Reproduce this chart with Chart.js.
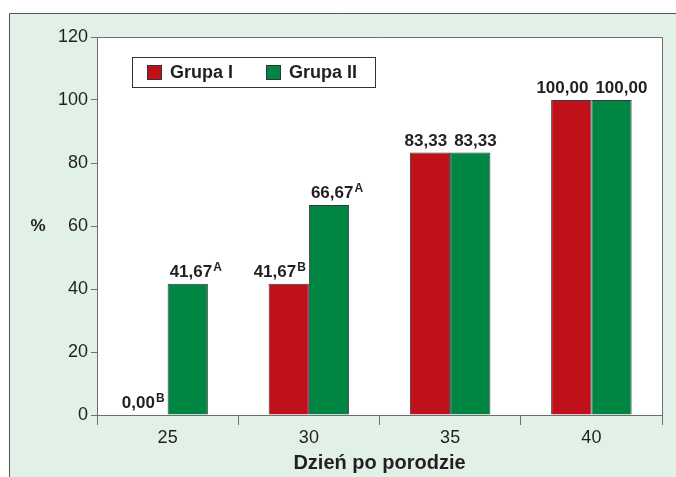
<!DOCTYPE html>
<html><head><meta charset="utf-8">
<script src="https://cdn.jsdelivr.net/npm/chart.js@4/dist/chart.umd.min.js"></script>
<style>html,body{margin:0;padding:0;background:#fff}canvas{display:block}</style>
</head><body>
<canvas id="c" width="676" height="477"></canvas>
<script>
const categories = ['25', '30', '35', '40'];
const seriesNames = ['Grupa I', 'Grupa II'];
const grupaI = [0.00, 41.67, 83.33, 100.00];
const grupaII = [41.67, 66.67, 83.33, 100.00];
const supI = ['B', 'B', '', ''];
const supII = ['A', 'A', '', ''];
const yTicks = [0, 20, 40, 60, 80, 100, 120];
const xTitle = 'Dzień po porodzie';
const yTitle = '%';

const RED = '#c0111b', GREEN = '#008542', TXT = '#231f20', AX = '#6d6e70';
const FONT = '"Liberation Sans", Arial, sans-serif';

const fmt = v => v.toFixed(2).replace('.', ',');

const decor = {
  id: 'decor',
  beforeDraw(chart) {
    const ctx = chart.ctx, a = chart.chartArea;
    ctx.save();
    ctx.fillStyle = '#fff'; ctx.fillRect(0, 0, 676, 477);
    ctx.fillStyle = '#e1f1e7'; ctx.fillRect(9, 13, 667, 464);
    ctx.strokeStyle = '#555'; ctx.lineWidth = 1;
    ctx.beginPath(); ctx.moveTo(9.5, 477); ctx.lineTo(9.5, 13.5); ctx.lineTo(676, 13.5); ctx.stroke();
    ctx.fillStyle = '#fff'; ctx.fillRect(a.left, a.top, a.right - a.left, a.bottom - a.top);
    ctx.restore();
  },
  afterDraw(chart) {
    const ctx = chart.ctx, a = chart.chartArea;
    ctx.save();
    ctx.strokeStyle = AX; ctx.lineWidth = 1;
    ctx.beginPath();
    ctx.moveTo(a.left, Math.round(a.top) + 0.5); ctx.lineTo(Math.round(a.right) + 0.5, Math.round(a.top) + 0.5);
    ctx.lineTo(Math.round(a.right) + 0.5, a.bottom); ctx.stroke();
    ctx.fillStyle = TXT; ctx.font = 'bold 17px ' + FONT;
    ctx.textAlign = 'center'; ctx.textBaseline = 'middle';
    ctx.fillText(yTitle, 38, chart.scales.y.getPixelForValue(60));
    const sups = [supI, supII];
    chart.data.datasets.forEach((ds, di) => {
      const meta = chart.getDatasetMeta(di);
      meta.data.forEach((bar, i) => {
        const main = fmt(ds.data[i]);
        const sup = sups[di][i];
        ctx.font = 'bold 17px ' + FONT;
        const wm = ctx.measureText(main).width;
        ctx.font = 'bold 12px ' + FONT;
        const ws = sup ? ctx.measureText(sup).width + 1 : 0;
        const w = wm + ws;
        const half = bar.width / 2;
        let x0;
        if (di === 0) x0 = bar.x + half - 3 - w;
        else x0 = bar.x - half + (sups[0][i] === '' && sup === '' ? 4 : 2);
        const yb = bar.y - 7;
        ctx.textAlign = 'left'; ctx.textBaseline = 'alphabetic';
        ctx.font = 'bold 17px ' + FONT; ctx.fillStyle = TXT;
        ctx.fillText(main, x0, yb);
        if (sup) { ctx.font = 'bold 12px ' + FONT; ctx.fillText(sup, x0 + wm + 1, yb - 6); }
      });
    });
    const lx = 132, ly = 57, lw = 243, lh = 30;
    ctx.fillStyle = '#fff'; ctx.fillRect(lx, ly, lw, lh);
    ctx.strokeStyle = '#333'; ctx.strokeRect(lx + 0.5, ly + 0.5, lw, lh);
    const items = [[147, 170], [266, 289]];
    chart.data.datasets.forEach((ds, di) => {
      const [sx, tx] = items[di];
      ctx.fillStyle = ds.backgroundColor; ctx.fillRect(sx, 65, 15, 15);
      ctx.strokeStyle = '#333'; ctx.strokeRect(sx + 0.5, 65.5, 14, 14);
      ctx.fillStyle = TXT; ctx.font = 'bold 18px ' + FONT;
      ctx.textAlign = 'left'; ctx.textBaseline = 'middle';
      ctx.fillText(ds.label, tx, 73);
    });
    ctx.restore();
  }
};

new Chart(document.getElementById('c'), {
  type: 'bar',
  data: {
    labels: categories,
    datasets: [
      { label: seriesNames[0], data: grupaI, backgroundColor: RED, borderColor: '#3a3a3a', borderWidth: 1 },
      { label: seriesNames[1], data: grupaII, backgroundColor: GREEN, borderColor: '#3a3a3a', borderWidth: 1 }
    ]
  },
  options: {
    responsive: false, animation: false, devicePixelRatio: 1,
    layout: { padding: { left: 0, top: 37, right: 14, bottom: 0 } },
    datasets: { bar: { categoryPercentage: 0.57, barPercentage: 1.0 } },
    plugins: { legend: { display: false }, tooltip: { enabled: false } },
    scales: {
      x: {
        grid: { offset: true, drawOnChartArea: false, color: AX, tickLength: 10, tickColor: AX },
        border: { color: AX, width: 1 },
        ticks: { color: TXT, font: { family: FONT, size: 18 }, padding: 2 },
        title: { display: true, text: xTitle, color: TXT, font: { family: FONT, size: 20, weight: 'bold' }, padding: { top: 2, bottom: 2 } },
        afterFit(s) { s.height = 62; }
      },
      y: {
        min: 0, max: 120,
        afterBuildTicks(s) { s.ticks = yTicks.map(v => ({ value: v })); },
        grid: { drawOnChartArea: false, color: AX, tickLength: 6, tickColor: AX },
        border: { color: AX, width: 1 },
        ticks: { color: TXT, font: { family: FONT, size: 18 }, padding: 3 },
        afterFit(s) { s.width = 97; }
      }
    }
  },
  plugins: [decor]
});
</script>
</body></html>
